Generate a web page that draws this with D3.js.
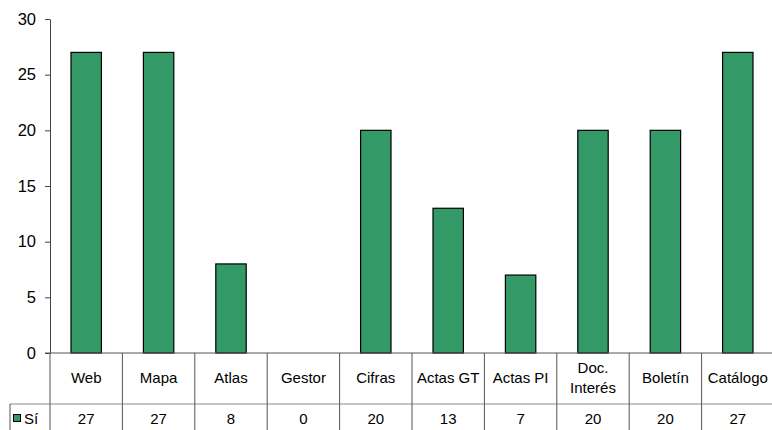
<!DOCTYPE html>
<html>
<head>
<meta charset="utf-8">
<script src="https://cdn.jsdelivr.net/npm/d3@7"></script>
<style>
  html, body { margin: 0; padding: 0; background: #fff; }
  svg { display: block; font-family: "Liberation Sans", Arial, sans-serif; }
</style>
</head>
<body>
<svg id="chart" width="772" height="430"></svg>
<script>
const categories = ["Web", "Mapa", "Atlas", "Gestor", "Cifras", "Actas GT", "Actas PI", "Doc.\nInterés", "Boletín", "Catálogo"];
const seriesName = "Sí";
const values = [27, 27, 8, 0, 20, 13, 7, 20, 20, 27];
const yTicks = [0, 5, 10, 15, 20, 25, 30];

(function () {
const svg = d3.select("#chart");
const left = 50, colW = 72.4;
const right = left + colW * categories.length;
const plotTop = 19, base = 353, rowLine = 404;

const y = d3.scaleLinear().domain([0, 30]).range([base, plotTop]);
const x = d3.scaleBand().domain(categories).range([left, right]).paddingInner(0.58).paddingOuter(0.29);
const cols = d3.scaleBand().domain(categories).range([left, right]);

// bars
svg.append("g").selectAll("rect").data(values).join("rect")
  .attr("x", (d, i) => x(categories[i]))
  .attr("y", d => y(d))
  .attr("width", x.bandwidth())
  .attr("height", d => y(0) - y(d))
  .attr("fill", "#339966")
  .attr("stroke", "#000")
  .attr("stroke-width", 1.2);

// y axis
const yAxis = d3.axisLeft(y).tickValues(yTicks).tickSize(5).tickPadding(9).tickSizeOuter(0);
const ga = svg.append("g").attr("transform", `translate(${left},0)`).call(yAxis);
ga.select(".domain").attr("stroke", "#444");
ga.selectAll(".tick line").attr("stroke", "#444");
ga.selectAll(".tick text").attr("font-size", 16.5).attr("fill", "#000")
  .attr("font-family", "Liberation Sans, Arial, sans-serif");

// table lines
const lc = "#555";
svg.append("line").attr("x1", left - 5).attr("x2", 772).attr("y1", base).attr("y2", base).attr("stroke", lc);
svg.append("line").attr("x1", 10).attr("x2", 772).attr("y1", rowLine).attr("y2", rowLine).attr("stroke", "#888");
svg.append("line").attr("x1", 10).attr("x2", 10).attr("y1", rowLine).attr("y2", 430).attr("stroke", lc);
svg.append("g").selectAll("line").data(categories).join("line")
  .attr("x1", d => cols(d)).attr("x2", d => cols(d))
  .attr("y1", base).attr("y2", 430).attr("stroke", lc);

// category labels
const lab = svg.append("g").attr("font-size", 15).attr("text-anchor", "middle").attr("fill", "#000");
categories.forEach(c => {
  const lines = c.split("\n");
  const cx = cols(c) + cols.bandwidth() / 2;
  const t = lab.append("text").attr("x", cx);
  const y0 = lines.length === 1 ? 383 : 373;
  lines.forEach((ln, j) => t.append("tspan").attr("x", cx).attr("y", y0 + j * 20).text(ln));
});

// values row
svg.append("g").attr("font-size", 15).attr("text-anchor", "middle").selectAll("text").data(values).join("text")
  .attr("x", (d, i) => cols(categories[i]) + cols.bandwidth() / 2)
  .attr("y", 424)
  .text(d => d);

// legend
svg.append("rect").attr("x", 13.5).attr("y", 414.5).attr("width", 7).attr("height", 7)
  .attr("fill", "#339966").attr("stroke", "#000");
svg.append("text").attr("x", 24).attr("y", 424).attr("font-size", 15).text(seriesName);
})();
</script>
</body>
</html>
